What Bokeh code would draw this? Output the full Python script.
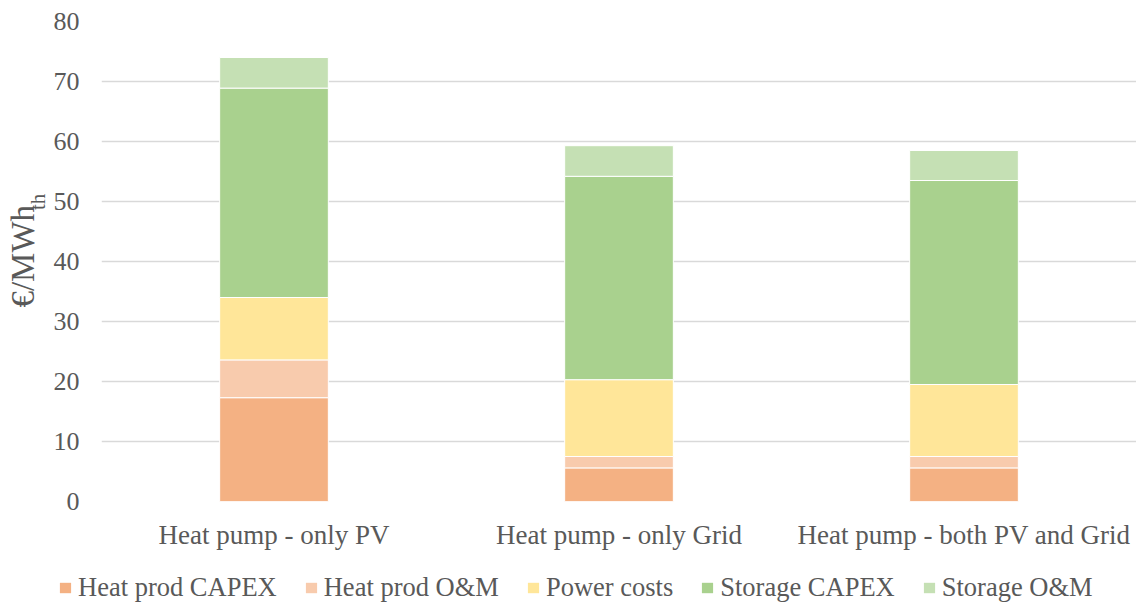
import math
from bokeh.plotting import figure
from bokeh.layouts import row, column
from bokeh.models import FactorRange, Range1d, FixedTicker, Label, Legend, LegendItem
from bokeh.embed import file_html
from bokeh.resources import INLINE

categories = ["Heat pump - only PV", "Heat pump - only Grid", "Heat pump - both PV and Grid"]
series = ["Heat prod CAPEX", "Heat prod O&M", "Power costs", "Storage CAPEX", "Storage O&M"]
heat_capex = [17.3, 5.6, 5.6]
heat_om = [6.3, 1.9, 1.9]
power_costs = [10.4, 12.8, 12.0]
storage_capex = [34.9, 33.9, 34.0]
storage_om = [5.1, 5.1, 5.0]
y_ticks = [0, 10, 20, 30, 40, 50, 60, 70, 80]
colors = ["#F4B183", "#F8CBAD", "#FFE699", "#A9D18E", "#C5E0B4"]

FONT = "Liberation Serif"
TXT = "#595959"

data = {"cat": categories, "Heat prod CAPEX": heat_capex, "Heat prod O&M": heat_om,
        "Power costs": power_costs, "Storage CAPEX": storage_capex, "Storage O&M": storage_om}

# ---- main chart ----
p = figure(x_range=FactorRange(*categories, range_padding=0), y_range=Range1d(0, 80),
           width=1086, height=552, output_backend="svg", toolbar_location=None,
           min_border_left=49, min_border_right=0, min_border_top=21, min_border_bottom=50)

renderers = p.vbar_stack(series, x="cat", width=0.315, source=data, color=colors,
                         line_color="white", line_width=1)

p.outline_line_color = None
p.xgrid.grid_line_color = None
p.ygrid.grid_line_color = "#D9D9D9"
p.ygrid.grid_line_width = 1.5
p.yaxis.ticker = FixedTicker(ticks=y_ticks)

for ax in (p.xaxis, p.yaxis):
    ax.axis_line_color = None
    ax.major_tick_line_color = None
    ax.minor_tick_line_color = None
    ax.major_tick_out = 0
    ax.major_tick_in = 0
    ax.minor_tick_out = 0
    ax.major_label_text_font = FONT
    ax.major_label_text_color = TXT

p.yaxis.major_label_text_font_size = "26px"
p.xaxis.major_label_text_font_size = "27px"
p.yaxis.major_label_standoff = 22
p.xaxis.major_label_standoff = 18

# ---- y-axis title strip (with subscript) ----
yl = figure(width=50, height=552, x_range=Range1d(0, 50), y_range=Range1d(0, 552),
            output_backend="svg", toolbar_location=None, x_axis_type=None, y_axis_type=None,
            min_border=0)
yl.outline_line_color = None
yl.grid.visible = False
yl.add_layout(Label(x=22, y=282, text="€/MWh", angle=math.pi / 2,
                    text_align="center", text_baseline="middle",
                    text_font=FONT, text_font_size="33px", text_color=TXT))
yl.add_layout(Label(x=37.5, y=344.5, text="th", angle=math.pi / 2,
                    text_align="center", text_baseline="middle",
                    text_font=FONT, text_font_size="21px", text_color=TXT))

# ---- legend strip ----
lg = figure(width=1136, height=50, x_range=Range1d(0, 1), y_range=Range1d(0, 1),
            output_backend="svg", toolbar_location=None, x_axis_type=None, y_axis_type=None,
            min_border=0)
lg.outline_line_color = None
lg.grid.visible = False
swatches = [lg.vbar(x=[0.5], top=[0], width=0, fill_color=c, line_color=None) for c in colors]
legend = Legend(items=[LegendItem(label=s, renderers=[r]) for s, r in zip(series, swatches)],
                orientation="horizontal", location=(58, -1),
                border_line_color=None, background_fill_alpha=0,
                label_text_font=FONT, label_text_font_size="26.5px", label_text_color=TXT,
                glyph_width=14, glyph_height=13, spacing=27, label_standoff=6,
                padding=0, margin=0)
lg.add_layout(legend, "center")

layout = column(row(yl, p, spacing=0), lg, spacing=0)
open("out.html", "w").write(file_html(layout, INLINE))
